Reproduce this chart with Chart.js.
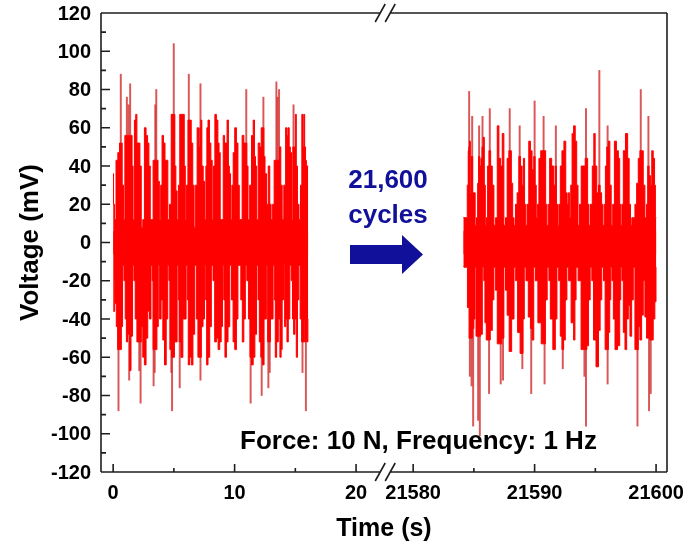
<!DOCTYPE html>
<html>
<head>
<meta charset="utf-8">
<script src="https://cdn.jsdelivr.net/npm/chart.js@4.4.1/dist/chart.umd.min.js"></script>
<style>
  html, body { margin: 0; padding: 0; background: #fff; }
  #wrap { width: 693px; height: 546px; position: relative; }
</style>
</head>
<body>
<div id="wrap"><canvas id="c"></canvas></div>
<script>
// ---------- data (time in s, voltage in mV) ----------
// solid envelope of the signal, first segment (0 - 16 s)
const leftTop = [[0.00,36],[0.06,20],[0.17,12],[0.30,43],[0.47,47],[0.58,52],[0.63,52],[0.69,52],[0.80,30],[0.91,12],[1.02,56],[1.13,56],[1.21,56],[1.27,56],[1.35,56],[1.40,56],[1.52,56],[1.60,40],[1.68,12],[1.82,64],[1.90,67],[2.01,52],[2.15,52],[2.26,40],[2.37,8],[2.51,12],[2.64,60],[2.78,56],[2.89,52],[3.00,40],[3.11,12],[3.22,12],[3.36,43],[3.47,43],[3.55,43],[3.64,43],[3.75,32],[3.86,12],[3.97,30],[4.08,56],[4.21,52],[4.33,43],[4.44,43],[4.57,12],[4.71,20],[4.85,67],[4.99,67],[5.04,67],[5.12,40],[5.21,27],[5.32,12],[5.43,30],[5.54,67],[5.67,67],[5.81,67],[5.90,40],[5.98,12],[6.09,30],[6.23,64],[6.36,64],[6.50,52],[6.61,30],[6.72,8],[6.86,30],[6.97,60],[7.08,50],[7.19,60],[7.25,64],[7.36,40],[7.47,32],[7.58,12],[7.69,40],[7.74,60],[7.88,64],[7.99,52],[8.10,43],[8.21,12],[8.32,40],[8.43,67],[8.57,64],[8.68,52],[8.76,47],[8.87,12],[9.01,12],[9.12,56],[9.23,52],[9.31,52],[9.45,64],[9.53,40],[9.61,36],[9.72,12],[9.83,30],[9.94,47],[10.08,60],[10.22,52],[10.33,30],[10.44,12],[10.55,12],[10.69,56],[10.83,52],[10.96,52],[11.05,40],[11.16,12],[11.32,30],[11.46,56],[11.60,64],[11.68,45],[11.76,40],[11.87,12],[12.01,52],[12.15,50],[12.23,60],[12.37,60],[12.45,45],[12.56,36],[12.70,20],[12.84,40],[12.95,20],[13.06,12],[13.20,20],[13.31,43],[13.44,43],[13.53,43],[13.66,43],[13.75,50],[13.86,30],[13.97,12],[14.13,30],[14.27,60],[14.35,56],[14.44,60],[14.55,50],[14.63,47],[14.74,12],[14.85,50],[14.96,50],[15.04,67],[15.12,40],[15.23,20],[15.37,12],[15.48,30],[15.59,67],[15.67,50],[15.73,67],[15.81,50],[15.87,43],[15.95,40],[16.01,40],[16.06,40]];
const leftBottom = [[0.00,-36],[0.08,-36],[0.17,-20],[0.22,-32],[0.30,-44],[0.44,-56],[0.52,-56],[0.63,-56],[0.72,-44],[0.83,-12],[0.94,-20],[1.05,-40],[1.13,-52],[1.24,-48],[1.32,-48],[1.40,-67],[1.54,-49],[1.65,-12],[1.76,-20],[1.87,-40],[2.04,-52],[2.15,-52],[2.26,-52],[2.37,-44],[2.51,-60],[2.64,-64],[2.78,-50],[2.92,-36],[3.06,-40],[3.17,-12],[3.25,-20],[3.33,-56],[3.42,-56],[3.55,-56],[3.66,-44],[3.77,-12],[3.88,-40],[4.02,-30],[4.16,-51],[4.30,-64],[4.44,-40],[4.55,-12],[4.63,-20],[4.71,-56],[4.79,-56],[4.85,-60],[4.99,-60],[5.10,-52],[5.21,-52],[5.32,-12],[5.40,-30],[5.48,-52],[5.67,-60],[5.81,-40],[5.95,-40],[6.06,-12],[6.14,-30],[6.23,-64],[6.36,-60],[6.50,-64],[6.64,-48],[6.78,-12],[6.91,-40],[7.05,-60],[7.19,-60],[7.33,-44],[7.47,-40],[7.58,-12],[7.66,-30],[7.74,-64],[7.88,-60],[8.02,-44],[8.15,-12],[8.29,-20],[8.43,-52],[8.57,-50],[8.71,-56],[8.84,-52],[8.95,-44],[9.06,-12],[9.15,-30],[9.26,-60],[9.39,-52],[9.53,-44],[9.67,-12],[9.81,-30],[9.94,-52],[10.08,-56],[10.22,-40],[10.33,-12],[10.44,-12],[10.58,-30],[10.69,-52],[10.83,-40],[10.94,-12],[11.07,-20],[11.21,-40],[11.32,-60],[11.46,-64],[11.60,-60],[11.74,-48],[11.87,-12],[11.98,-30],[12.09,-52],[12.23,-60],[12.37,-64],[12.48,-40],[12.56,-40],[12.67,-12],[12.78,-52],[12.89,-52],[13.00,-40],[13.11,-40],[13.22,-12],[13.31,-30],[13.39,-60],[13.53,-52],[13.66,-40],[13.80,-60],[13.86,-56],[13.97,-30],[14.08,-12],[14.16,-44],[14.27,-40],[14.35,-52],[14.49,-40],[14.60,-12],[14.71,-20],[14.82,-40],[14.90,-48],[15.04,-40],[15.12,-60],[15.23,-30],[15.34,-12],[15.45,-40],[15.59,-52],[15.73,-52],[15.81,-40],[15.87,-52],[15.95,-50],[16.01,-52],[16.06,-40]];
// thin single spikes, first segment
const leftSpikes = [[0.63,88],[1.13,76],[1.27,72],[1.40,83],[3.47,72],[3.55,80],[4.99,104],[6.23,88],[7.19,83],[10.96,80],[12.37,76],[13.44,84],[13.53,76],[13.66,80],[14.85,72],
  [0.44,-88],[1.32,-72],[2.15,-67],[2.26,-84],[3.33,-75],[3.42,-68],[4.79,-68],[4.85,-88],[5.48,-76],[7.19,-72],[11.32,-84],[12.23,-80],[12.78,-76],[12.89,-68],[15.59,-68],[15.87,-88]];

// solid envelope, second segment (21584 - 21600 s)
const rightTop = [[21584.13,13],[21584.40,13],[21584.51,30],[21584.56,48],[21584.61,50],[21584.67,53],[21584.75,26],[21584.86,45],[21584.94,26],[21585.05,26],[21585.16,9],[21585.27,13],[21585.35,31],[21585.43,45],[21585.54,40],[21585.63,44],[21585.71,50],[21585.82,55],[21585.90,30],[21585.98,9],[21586.09,13],[21586.17,40],[21586.31,48],[21586.45,40],[21586.58,30],[21586.72,9],[21586.86,13],[21586.99,61],[21587.13,44],[21587.27,40],[21587.40,57],[21587.54,9],[21587.67,13],[21587.81,44],[21587.95,48],[21588.03,48],[21588.14,31],[21588.25,13],[21588.36,9],[21588.49,20],[21588.63,26],[21588.77,45],[21588.90,40],[21589.04,30],[21589.12,44],[21589.23,20],[21589.31,9],[21589.45,20],[21589.59,53],[21589.72,48],[21589.86,38],[21590.00,45],[21590.08,30],[21590.19,13],[21590.30,20],[21590.41,44],[21590.60,48],[21590.74,48],[21590.87,48],[21590.95,20],[21591.06,9],[21591.17,20],[21591.31,44],[21591.50,40],[21591.64,30],[21591.75,40],[21591.83,20],[21591.94,9],[21592.05,20],[21592.18,40],[21592.32,48],[21592.51,53],[21592.62,26],[21592.73,20],[21592.81,26],[21592.92,13],[21593.03,30],[21593.14,57],[21593.28,61],[21593.41,53],[21593.52,30],[21593.63,9],[21593.77,20],[21593.90,40],[21594.10,40],[21594.23,44],[21594.31,44],[21594.42,20],[21594.53,9],[21594.67,20],[21594.83,40],[21594.92,57],[21595.05,40],[21595.19,26],[21595.33,30],[21595.46,26],[21595.57,20],[21595.68,9],[21595.79,20],[21595.87,40],[21596.01,50],[21596.14,53],[21596.25,30],[21596.36,9],[21596.50,20],[21596.64,53],[21596.83,48],[21596.96,44],[21597.05,20],[21597.13,9],[21597.24,20],[21597.37,48],[21597.59,57],[21597.73,44],[21597.84,20],[21597.95,9],[21598.06,13],[21598.19,13],[21598.33,20],[21598.47,31],[21598.60,44],[21598.74,48],[21598.88,48],[21599.01,30],[21599.15,13],[21599.26,20],[21599.37,40],[21599.48,35],[21599.59,30],[21599.70,48],[21599.83,44],[21599.92,30],[21599.97,13],[21600.02,13]];
const rightBottom = [[21584.13,-12.6],[21584.26,-13],[21584.40,-13],[21584.54,-34],[21584.67,-50],[21584.81,-50],[21584.94,-45],[21585.05,-40],[21585.13,-13],[21585.22,-49],[21585.35,-49],[21585.49,-49],[21585.63,-48],[21585.76,-13],[21585.87,-20],[21585.95,-42],[21586.09,-51],[21586.25,-51],[21586.45,-46],[21586.58,-30],[21586.72,-13],[21586.86,-25],[21586.99,-53],[21587.21,-53],[21587.40,-50],[21587.54,-13],[21587.67,-25],[21587.81,-38],[21588.00,-57],[21588.22,-40],[21588.39,-13],[21588.49,-20],[21588.71,-47],[21588.90,-58],[21588.99,-58],[21589.10,-40],[21589.20,-13],[21589.37,-20],[21589.59,-39],[21589.72,-45],[21589.86,-51],[21590.00,-13],[21590.13,-20],[21590.41,-42],[21590.68,-53],[21590.82,-53],[21590.95,-30],[21591.12,-13],[21591.23,-20],[21591.36,-40],[21591.64,-56],[21591.77,-40],[21591.91,-13],[21592.05,-20],[21592.18,-49],[21592.32,-56],[21592.46,-51],[21592.59,-30],[21592.73,-13],[21592.87,-20],[21593.14,-42],[21593.28,-51],[21593.36,-30],[21593.47,-13],[21593.69,-20],[21593.96,-56],[21594.10,-56],[21594.23,-56],[21594.37,-54],[21594.51,-30],[21594.64,-13],[21594.78,-20],[21594.92,-51],[21595.19,-65],[21595.33,-46],[21595.46,-30],[21595.60,-13],[21595.74,-20],[21595.87,-56],[21596.01,-56],[21596.14,-47],[21596.23,-30],[21596.31,-13],[21596.42,-20],[21596.55,-40],[21596.69,-56],[21596.96,-54],[21597.05,-30],[21597.13,-13],[21597.24,-20],[21597.37,-47],[21597.51,-56],[21597.65,-40],[21597.78,-33],[21597.92,-49],[21598.06,-30],[21598.19,-13],[21598.33,-56],[21598.47,-56],[21598.60,-44],[21598.74,-51],[21598.88,-38],[21599.01,-20],[21599.15,-39],[21599.29,-50],[21599.42,-50],[21599.56,-51],[21599.70,-51],[21599.83,-40],[21599.97,-31],[21600.02,-13]];
const rightSpikes = [[21584.61,79],[21584.86,66],[21585.43,61],[21585.71,66],[21586.31,70],[21587.95,70],[21588.77,61],[21590.00,74],[21590.74,66],[21591.75,61],[21594.23,70],[21595.33,90],[21596.01,61],[21598.74,80],[21599.37,66],
  [21584.67,-70],[21584.81,-75],[21584.94,-96],[21585.35,-93],[21585.49,-101],[21586.25,-79],[21587.21,-74],[21587.40,-72],[21588.99,-66],[21589.72,-79],[21590.82,-74],[21592.32,-66],[21594.10,-70],[21594.23,-96],[21596.01,-74],[21598.47,-96],[21599.42,-88],[21599.56,-79]];

// axis definitions
const yMajorTicks = [-120,-100,-80,-60,-40,-20,0,20,40,60,80,100,120];
const yMinorTicks = [-110,-90,-70,-50,-30,-10,10,30,50,70,90,110];
const xLeftMajor = [0,10,20];
const xLeftMinor = [5,15];
const xRightMajor = [21580,21590,21600];
const xRightMinor = [21585,21595];
const axisBreak = { leftEnd: 22.4, rightStart: 21577.7 };   // s
const xRange = { min: -1, max: 21600.9 };
const yRange = { min: -120, max: 120 };
const SHIFT = axisBreak.rightStart - axisBreak.leftEnd;     // removed time span

const toLeft = a => a.map(([t, v]) => ({ x: t, y: v }));
const toRight = a => a.map(([t, v]) => ({ x: t - SHIFT, y: v }));
const axisPos = t => (t > axisBreak.leftEnd + 1 ? t - SHIFT : t);

const RED = '#ff0000';
const SPIKE = 'rgba(210,45,45,0.8)';
const FONT = '"Liberation Sans", Arial, Helvetica, sans-serif';

function env(data, overlap) {
  return { type: 'line', data, borderColor: RED, backgroundColor: RED, borderWidth: 1,
           pointRadius: 0, tension: 0, stepped: 'middle', fill: { value: overlap } };
}
function spikes(data) {
  return { type: 'bar', data, backgroundColor: SPIKE, borderWidth: 0, barThickness: 1.3,
           grouped: false };
}

const framePlugin = {
  id: 'frame',
  afterDraw(chart) {
    const ctx = chart.ctx;
    const { left, right, top, bottom } = chart.chartArea;
    const xs = chart.scales.x, ys = chart.scales.y;
    const bx = xs.getPixelForValue(axisBreak.leftEnd);
    ctx.save();
    ctx.strokeStyle = '#1e1e1e';
    ctx.lineWidth = 1.6;
    ctx.lineCap = 'butt';
    ctx.beginPath();
    ctx.moveTo(left, top); ctx.lineTo(left, bottom);
    ctx.moveTo(right, top); ctx.lineTo(right, bottom);
    ctx.moveTo(left, top); ctx.lineTo(bx - 5, top);
    ctx.moveTo(bx + 5, top); ctx.lineTo(right, top);
    ctx.moveTo(left, bottom); ctx.lineTo(bx - 5, bottom);
    ctx.moveTo(bx + 5, bottom); ctx.lineTo(right, bottom);
    // break marks
    [top, bottom].forEach(yy => {
      [-5, 5].forEach(d => {
        ctx.moveTo(bx + d - 5, yy + 9); ctx.lineTo(bx + d + 5, yy - 9);
      });
    });
    // y ticks (inward)
    yMajorTicks.forEach(v => { const y = ys.getPixelForValue(v); ctx.moveTo(left, y); ctx.lineTo(left + 9, y); });
    yMinorTicks.forEach(v => { const y = ys.getPixelForValue(v); ctx.moveTo(left, y); ctx.lineTo(left + 5, y); });
    // x ticks (inward)
    xLeftMajor.concat(xRightMajor).forEach(t => { const x = xs.getPixelForValue(axisPos(t)); ctx.moveTo(x, bottom); ctx.lineTo(x, bottom - 8); });
    xLeftMinor.concat(xRightMinor).forEach(t => { const x = xs.getPixelForValue(axisPos(t)); ctx.moveTo(x, bottom); ctx.lineTo(x, bottom - 4); });
    ctx.stroke();

    // tick labels
    ctx.fillStyle = '#000';
    ctx.font = 'bold 20px ' + FONT;
    ctx.textAlign = 'right'; ctx.textBaseline = 'middle';
    yMajorTicks.forEach(v => ctx.fillText(String(v), left - 10, ys.getPixelForValue(v) + 1));
    ctx.textAlign = 'center';
    xLeftMajor.concat(xRightMajor).forEach(t => ctx.fillText(String(t), xs.getPixelForValue(axisPos(t)), bottom + 21));

    // axis titles
    ctx.font = 'bold 25px ' + FONT;
    ctx.textBaseline = 'alphabetic';
    ctx.fillText('Time (s)', (left + right) / 2, 536);
    ctx.save();
    ctx.translate(31, (top + bottom) / 2);
    ctx.rotate(-Math.PI / 2);
    ctx.font = 'bold 26px ' + FONT;
    ctx.textBaseline = 'middle';
    ctx.fillText('Voltage (mV)', 0, 0);
    ctx.restore();

    // annotations
    ctx.font = 'bold 26px ' + FONT;
    ctx.textAlign = 'left'; ctx.textBaseline = 'alphabetic';
    ctx.fillText('Force: 10 N, Frequency: 1 Hz', 240, 449);
    const NAVY = '#10109a';
    ctx.fillStyle = NAVY;
    ctx.textAlign = 'center';
    ctx.fillText('21,600', 388, 188);
    ctx.fillText('cycles', 388, 223);
    ctx.beginPath();
    ctx.moveTo(350, 245); ctx.lineTo(402, 245); ctx.lineTo(402, 235); ctx.lineTo(423, 254.5);
    ctx.lineTo(402, 274); ctx.lineTo(402, 264); ctx.lineTo(350, 264); ctx.closePath();
    ctx.fill();
    ctx.restore();
  }
};

new Chart(document.getElementById('c'), {
  type: 'line',
  data: {
    datasets: [
      env(toLeft(leftTop), -6), env(toLeft(leftBottom), 6),
      env(toRight(rightTop), -6), env(toRight(rightBottom), 6),
      spikes(toLeft(leftSpikes)), spikes(toRight(rightSpikes))
    ]
  },
  options: {
    responsive: true, maintainAspectRatio: false, animation: false,
    devicePixelRatio: 1,
    layout: { padding: { left: 101, right: 26, top: 13, bottom: 74 } },
    plugins: { legend: { display: false }, tooltip: { enabled: false } },
    scales: {
      x: { type: 'linear', display: false, min: xRange.min, max: axisPos(xRange.max), offset: false },
      y: { type: 'linear', display: false, min: yRange.min, max: yRange.max }
    }
  },
  plugins: [framePlugin]
});
</script>
</body>
</html>
